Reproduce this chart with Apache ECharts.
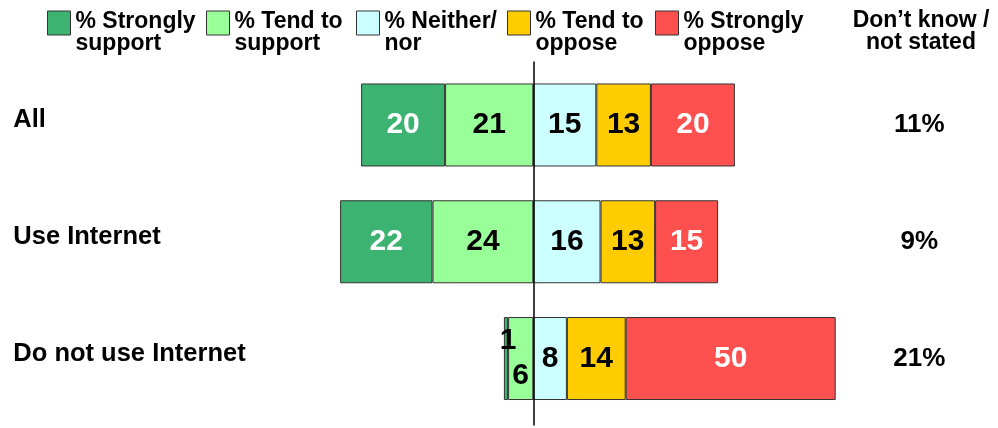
<!DOCTYPE html>
<html>
<head>
<meta charset="utf-8">
<title>Support / oppose by internet use</title>
<script src="https://cdn.jsdelivr.net/npm/echarts@6/dist/echarts.min.js"></script>
<style>
    html, body { margin: 0; padding: 0; background: #fff; }
    #main { width: 998px; height: 428px; }
</style>
</head>
<body>
<div id="main"></div>
<script>
var categories = ['All', 'Use Internet', 'Do not use Internet'];
var strongSupport = [20, 22, 1];
var tendSupport = [21, 24, 6];
var neitherNor = [15, 16, 8];
var tendOppose = [13, 13, 14];
var strongOppose = [20, 15, 50];
var dontKnow = ['11%', '9%', '21%'];
var legendNames = ['% Strongly\nsupport', '% Tend to\nsupport', '% Neither/\nnor', '% Tend to\noppose', '% Strongly\noppose'];

(function () {
    var font = "'Liberation Sans', Arial, sans-serif";
    var chart = echarts.init(document.getElementById('main'));

    // left half of the chart is support (negative), right half neither + oppose
    function makeSeries(name, values, sign, color, labelColor, labelFix) {
        return {
            name: name,
            type: 'bar',
            stack: 'total',
            barWidth: 83,
            itemStyle: {
                color: color,
                borderColor: '#333',
                borderWidth: 1
            },
            label: {
                show: true,
                position: 'inside',
                color: labelColor,
                fontSize: 30,
                fontWeight: 'bold',
                fontFamily: font,
                formatter: function (p) {
                    return Math.abs(p.value);
                }
            },
            data: values.map(function (v, i) {
                var item = { value: sign * v };
                if (labelFix && labelFix[i]) {
                    item.label = labelFix[i];
                }
                return item;
            })
        };
    }

    // text sits a little below the icon centre, so pad the top with a thin spacer line
    var legendLeft = [47, 206, 356, 507, 655];
    var legends = legendNames.map(function (n, i) {
        return {
            data: [n],
            left: legendLeft[i],
            top: -8.5,
            padding: 0,
            icon: 'rect',
            itemWidth: 23,
            itemHeight: 24,
            selectedMode: false,
            itemStyle: { borderColor: '#333', borderWidth: 1 },
            formatter: function (name) {
                var parts = name.split('\n');
                return '{s| }\n{a|' + parts[0] + '}\n{a|' + parts[1] + '}';
            },
            textStyle: {
                color: '#000',
                fontFamily: font,
                rich: {
                    s: { fontSize: 1, lineHeight: 19, height: 19 },
                    a: {
                        color: '#000',
                        fontSize: 23,
                        fontWeight: 'bold',
                        fontFamily: font,
                        lineHeight: 22
                    }
                }
            }
        };
    });

    chart.setOption({
        animation: false,
        title: {
            text: 'Don\u2019t know /\nnot stated',
            left: 921,
            top: 10,
            textAlign: 'center',
            padding: 0,
            textStyle: {
                color: '#000',
                fontSize: 23,
                fontWeight: 'bold',
                fontFamily: font,
                lineHeight: 22
            }
        },
        legend: legends,
        grid: [{
            left: 281.3,
            width: 588,
            top: 66.6,
            height: 350.3
        }, {
            left: 281.3,
            width: 588,
            top: 62,
            height: 363
        }],
        xAxis: [{
            gridIndex: 0,
            type: 'value',
            min: -60,
            max: 80,
            show: false
        }, {
            gridIndex: 1,
            type: 'value',
            min: -60,
            max: 80,
            show: false
        }],
        yAxis: [{
            gridIndex: 0,
            type: 'category',
            data: categories,
            inverse: true,
            axisLine: { show: false, onZero: false },
            axisTick: { show: false },
            axisLabel: {
                align: 'left',
                verticalAlign: 'bottom',
                lineHeight: 10,
                margin: 268,
                color: '#000',
                fontSize: 25.5,
                fontWeight: 'bold',
                fontFamily: font
            }
        }, {
            gridIndex: 0,
            type: 'category',
            data: dontKnow,
            inverse: true,
            position: 'right',
            axisLine: { show: false, onZero: false },
            axisTick: { show: false },
            axisLabel: {
                align: 'center',
                margin: 50,
                color: '#000',
                fontSize: 26,
                fontWeight: 'bold',
                fontFamily: font
            }
        }, {
            // zero line, a bit taller than the bars
            gridIndex: 1,
            type: 'value',
            min: 0,
            max: 1,
            z: 10,
            axisLine: {
                show: true,
                onZero: true,
                lineStyle: { color: '#000', width: 1.5 }
            },
            axisTick: { show: false },
            axisLabel: { show: false },
            splitLine: { show: false }
        }],
        series: [
            makeSeries(legendNames[1], tendSupport, -1, '#99ff99', '#000',
                [null, null, { offset: [0, 17] }]),
            makeSeries(legendNames[0], strongSupport, -1, '#3cb371', '#fff',
                [null, null, { offset: [2, -18], color: '#000' }]),
            makeSeries(legendNames[2], neitherNor, 1, '#ccffff', '#000'),
            makeSeries(legendNames[3], tendOppose, 1, '#ffcc00', '#000'),
            makeSeries(legendNames[4], strongOppose, 1, '#ff5050', '#fff')
        ]
    });
})();
</script>
</body>
</html>
